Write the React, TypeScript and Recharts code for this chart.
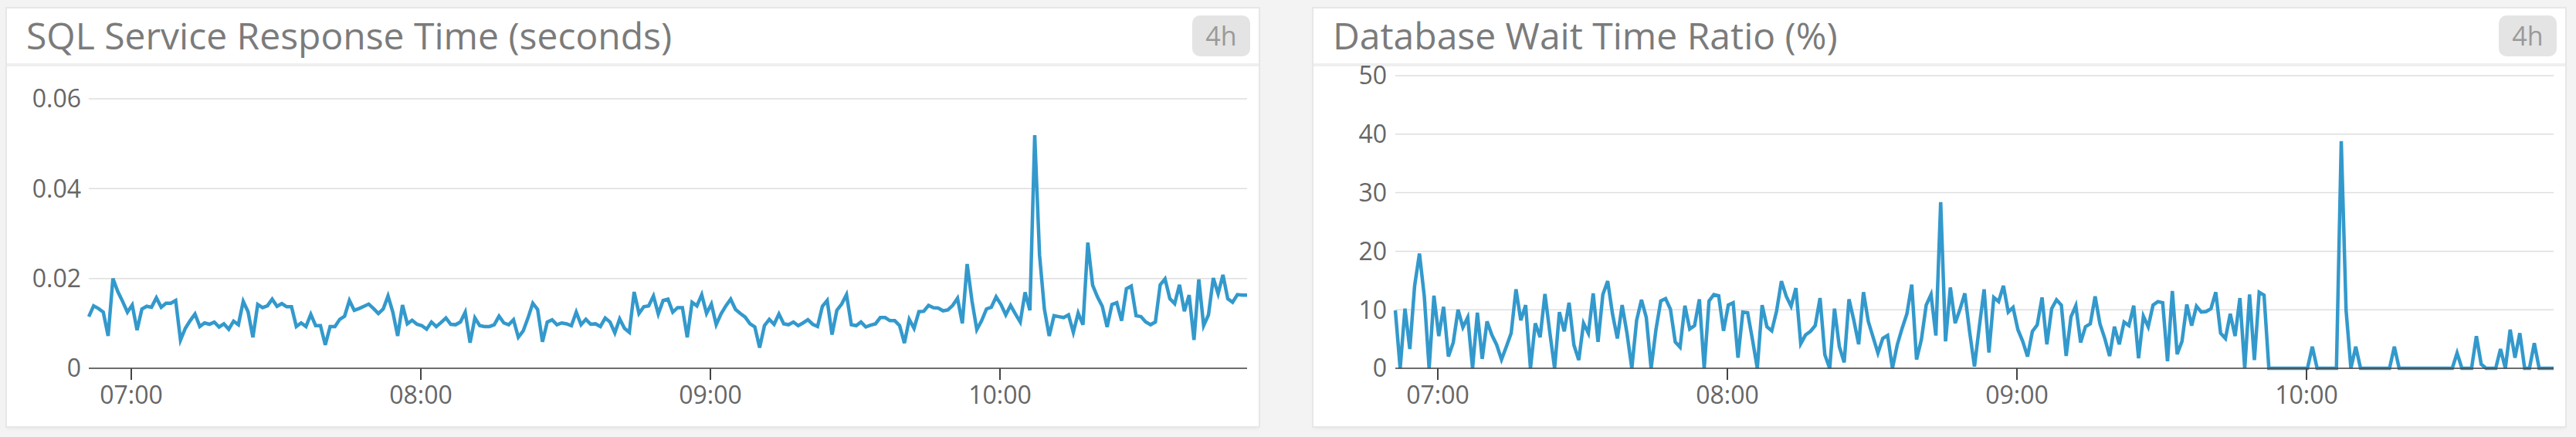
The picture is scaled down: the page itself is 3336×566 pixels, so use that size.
import { CartesianGrid, Line, LineChart, XAxis, YAxis } from 'recharts'

const LINE_COLOR = '#3399cc'
const GRID_COLOR = '#dedede'
const AXIS_COLOR = '#444444'
const TICK_TEXT = '#666666'

// one sample per minute, first sample at 06:51:12
const START_MINUTE = 51.2
const TIME_TICKS = [60, 120, 180, 240]
const TIME_LABELS = ['07:00', '08:00', '09:00', '10:00']

const SQL_TITLE = 'SQL Service Response Time (seconds)'
const SQL_TICKS = [0, 0.02, 0.04, 0.06]
const SQL_RESPONSE_TIME = [
  0.0115, 0.0139, 0.0133, 0.0125, 0.0072, 0.02, 0.0171, 0.0149, 0.0125, 0.0141,
  0.0085, 0.0132, 0.0138, 0.0136, 0.0157, 0.0136, 0.0145, 0.0145, 0.0151, 0.0063,
  0.0089, 0.0106, 0.0121, 0.0093, 0.0101, 0.0098, 0.0103, 0.0092, 0.0099, 0.0087,
  0.0105, 0.0097, 0.0149, 0.0126, 0.0069, 0.0142, 0.0135, 0.0139, 0.0154, 0.0138,
  0.0144, 0.0137, 0.0137, 0.0093, 0.0101, 0.0093, 0.012, 0.0095, 0.0095, 0.0052,
  0.0093, 0.0093, 0.0109, 0.0116, 0.0151, 0.0129, 0.0133, 0.0138, 0.0143, 0.0133,
  0.0122, 0.0132, 0.0161, 0.0125, 0.0072, 0.0141, 0.0099, 0.0107, 0.0098, 0.0095,
  0.0087, 0.0103, 0.0093, 0.0102, 0.0112, 0.0098, 0.0097, 0.0103, 0.0125, 0.0057,
  0.0112, 0.0095, 0.0093, 0.0093, 0.0097, 0.0116, 0.0101, 0.0097, 0.0108, 0.0069,
  0.0083, 0.0112, 0.0145, 0.0131, 0.0059, 0.0103, 0.0108, 0.0097, 0.0101, 0.0099,
  0.0095, 0.0125, 0.0097, 0.0109, 0.0098, 0.0099, 0.0093, 0.0112, 0.0103, 0.0079,
  0.011, 0.0089, 0.008, 0.017, 0.0122, 0.0137, 0.0139, 0.0161, 0.0121, 0.0151,
  0.0154, 0.0125, 0.0135, 0.0135, 0.0069, 0.0147, 0.0139, 0.0164, 0.0122, 0.0143,
  0.0097, 0.0121, 0.0139, 0.0154, 0.0131, 0.0122, 0.0114, 0.0099, 0.0092, 0.0046,
  0.0095, 0.0109, 0.0098, 0.0121, 0.0099, 0.0097, 0.0103, 0.0095, 0.0101, 0.0108,
  0.0098, 0.0093, 0.0138, 0.0151, 0.0075, 0.0129, 0.0143, 0.0164, 0.0097, 0.0095,
  0.0103, 0.0092, 0.0096, 0.0099, 0.0113, 0.0113, 0.0106, 0.0106, 0.0095, 0.0056,
  0.0109, 0.0089, 0.0126, 0.0127, 0.014, 0.0135, 0.0134, 0.0128, 0.013, 0.014,
  0.0156, 0.01, 0.0232, 0.015, 0.0086, 0.0106, 0.0132, 0.0136, 0.0159, 0.0142,
  0.0119, 0.014, 0.0121, 0.0103, 0.0169, 0.0129, 0.0519, 0.0252, 0.0132, 0.0072,
  0.0117, 0.0115, 0.0113, 0.0119, 0.008, 0.0123, 0.0097, 0.028, 0.0185, 0.0159,
  0.0138, 0.0092, 0.0142, 0.0146, 0.0106, 0.0177, 0.0183, 0.0117, 0.0115, 0.0103,
  0.0097, 0.0103, 0.0186, 0.0199, 0.0155, 0.0144, 0.0186, 0.0127, 0.0163, 0.0063,
  0.0198, 0.0095, 0.0119, 0.0201, 0.0166, 0.0208, 0.0155, 0.0147, 0.0164, 0.0163,
  0.0163,
]

const DB_TITLE = 'Database Wait Time Ratio (%)'
const DB_TICKS = [0, 10, 20, 30, 40, 50]
const DB_WAIT_RATIO = [
  9.9, 0, 10.2, 3.3, 14.1, 19.6, 12.3, 0, 12.4, 5.5,
  10.5, 2.0, 4.4, 10.0, 7.0, 8.7, 0, 9.5, 1.6, 8.0,
  5.7, 4.0, 1.5, 3.7, 6.0, 13.5, 8.2, 10.8, 0, 7.7,
  5.3, 12.7, 6.2, 0, 9.6, 6.3, 11.2, 4.0, 1.4, 7.7,
  6.0, 12.8, 4.5, 12.6, 14.9, 9.3, 5.1, 10.8, 6.0, 0,
  8.2, 11.7, 8.7, 0, 6.6, 11.5, 11.9, 10.1, 4.5, 3.6,
  10.7, 6.7, 7.3, 11.8, 0, 11.5, 12.6, 12.4, 6.4, 10.8,
  11.2, 1.8, 9.6, 9.5, 4.9, 0, 10.8, 7.1, 6.4, 9.8,
  14.9, 12.3, 10.6, 13.7, 4.2, 5.7, 6.3, 7.3, 12.0, 2.3,
  0, 10.2, 3.7, 1.0, 11.8, 8.2, 4.1, 13.0, 8.0, 5.3,
  2.6, 5.1, 5.6, 0, 4.0, 6.8, 9.3, 14.3, 1.5, 4.9,
  10.8, 12.6, 5.6, 28.4, 4.6, 13.8, 7.7, 10.1, 12.8, 6.2,
  0.3, 7.1, 13.5, 2.7, 12.1, 11.4, 14.1, 9.6, 10.4, 6.6,
  4.6, 2.0, 6.3, 7.4, 12.1, 4.1, 10.2, 11.7, 10.8, 2.1,
  8.8, 10.7, 4.4, 7.1, 7.6, 12.3, 7.6, 5.1, 2.1, 7.1,
  4.1, 7.9, 7.3, 10.7, 1.7, 8.9, 7.1, 10.8, 11.4, 11.2,
  1.2, 13.2, 2.4, 4.6, 10.9, 7.3, 10.6, 9.6, 9.7, 10.2,
  13.0, 6.0, 5.1, 9.3, 5.5, 12.0, 0, 12.6, 1.4, 13.0,
  12.5, 0, 0, 0, 0, 0, 0, 0, 0, 0,
  3.7, 0, 0, 0, 0, 0, 38.8, 9.9, 0, 3.7,
  0, 0, 0, 0, 0, 0, 0, 3.7, 0, 0,
  0, 0, 0, 0, 0, 0, 0, 0, 0, 0,
  2.6, 0, 0, 0, 5.5, 0.7, 0, 0, 0, 3.3,
  0, 6.6, 1.8, 6.0, 0, 0, 4.3, 0, 0, 0,
  0,
]

const CARD_W = 1621
const CARD_H = 541
// the chart svg starts a little above the header divider so the top tick label has room
const CHART_TOP = 55
const CHART_H = 486

type PanelProps = {
  title: string
  left: number
  values: number[]
  ticks: number[]
  marginTop: number
  labelGap: number
}

function Panel({ title, left, values, ticks, marginTop, labelGap }: PanelProps) {
  const rows = values.map((v, i) => ({ t: START_MINUTE + i, v }))
  const span = values.length - 1

  return (
    <div
      style={{
        position: 'absolute',
        left,
        top: 11,
        width: CARD_W,
        height: CARD_H,
        background: '#ffffff',
        boxShadow: '0 0 0 2px #e7e7e7, 0 3px 4px rgba(0,0,0,0.06)',
      }}
    >
      <div
        style={{
          position: 'absolute',
          left: 25,
          top: 11,
          fontSize: 48,
          lineHeight: 1,
          color: '#7b7b7b',
          whiteSpace: 'nowrap',
        }}
      >
        {title}
      </div>
      <div
        style={{
          position: 'absolute',
          right: 11,
          top: 9,
          width: 75,
          height: 53,
          borderRadius: 10,
          background: '#e4e4e4',
          color: '#9a9a9a',
          fontSize: 34,
          lineHeight: '53px',
          textAlign: 'center',
        }}
      >
        4h
      </div>
      <div style={{ position: 'absolute', left: 0, top: 71, width: '100%', height: 4, background: '#efefef' }} />
      <div style={{ position: 'absolute', left: 0, top: CHART_TOP }}>
        <LineChart
          width={CARD_W}
          height={CHART_H}
          data={rows}
          margin={{ top: marginTop, right: 15, left: 10, bottom: 0 }}
        >
          <CartesianGrid stroke={GRID_COLOR} strokeWidth={1.5} vertical={false} />
          <XAxis
            dataKey="t"
            type="number"
            domain={[START_MINUTE, START_MINUTE + span]}
            ticks={TIME_TICKS}
            interval={0}
            tickFormatter={(v) => TIME_LABELS[TIME_TICKS.indexOf(v)] ?? ''}
            height={75}
            tickSize={15}
            tickMargin={8}
            tick={{ fill: TICK_TEXT, fontSize: 32 }}
            axisLine={{ stroke: AXIS_COLOR, strokeWidth: 1.5 }}
            tickLine={{ stroke: AXIS_COLOR, strokeWidth: 2 }}
          />
          <YAxis
            type="number"
            domain={[ticks[0], ticks[ticks.length - 1]]}
            ticks={ticks}
            interval={0}
            width={96}
            tickMargin={labelGap}
            tick={{ fill: TICK_TEXT, fontSize: 32 }}
            axisLine={false}
            tickLine={false}
          />
          <Line
            type="linear"
            dataKey="v"
            stroke={LINE_COLOR}
            strokeWidth={4.5}
            dot={false}
            activeDot={false}
            isAnimationActive={false}
          />
        </LineChart>
      </div>
    </div>
  )
}

export default function App() {
  return (
    <div
      style={{
        position: 'relative',
        width: 3336,
        height: 566,
        background: '#f3f3f3',
        fontFamily: '"Open Sans", sans-serif',
        overflow: 'hidden',
      }}
    >
      <style>{'body{margin:0;background:#f3f3f3}'}</style>
      <Panel title={SQL_TITLE} left={9} values={SQL_RESPONSE_TIME} ticks={SQL_TICKS} marginTop={62} labelGap={4} />
      <Panel title={DB_TITLE} left={1701} values={DB_WAIT_RATIO} ticks={DB_TICKS} marginTop={32} labelGap={5} />
    </div>
  )
}
